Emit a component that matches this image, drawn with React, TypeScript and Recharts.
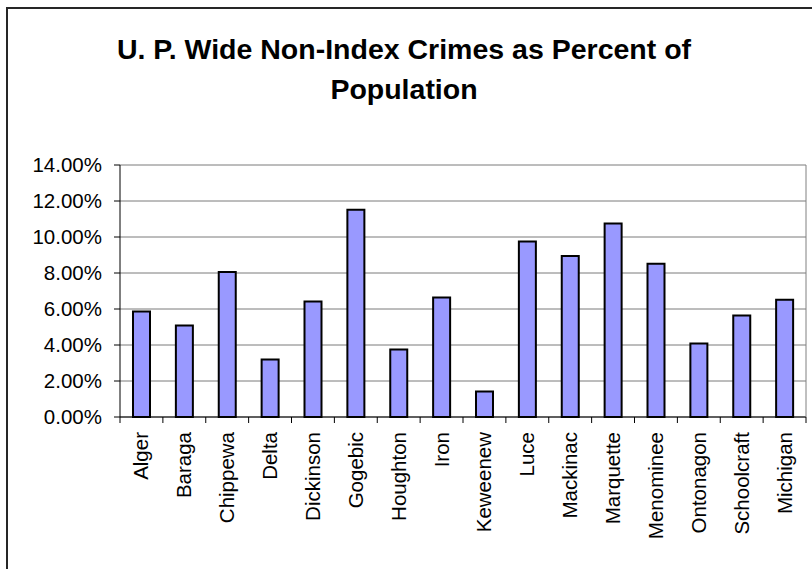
import React from 'react';
import { BarChart, Bar, XAxis, YAxis, CartesianGrid } from 'recharts';

const counties = [
  'Alger', 'Baraga', 'Chippewa', 'Delta', 'Dickinson', 'Gogebic', 'Houghton', 'Iron',
  'Keweenew', 'Luce', 'Mackinac', 'Marquette', 'Menominee', 'Ontonagon', 'Schoolcraft', 'Michigan',
];
const rates = [5.86, 5.09, 8.06, 3.2, 6.42, 11.52, 3.75, 6.64, 1.42, 9.75, 8.95, 10.75, 8.51, 4.09, 5.64, 6.51];
const yTicks = [0, 2, 4, 6, 8, 10, 12, 14];

const data = counties.map((name, i) => ({ name, rate: rates[i] }));

const W = 812;
const H = 569;
const LEFT = 120;
const RIGHT_W = 6;
const BAND = (W - LEFT - RIGHT_W) / counties.length;
const FONT = '"Liberation Sans", Arial, sans-serif';

// category ticks sit on the boundaries between bars, labels run upwards
const CatTick = (props: any) => {
  const { x, y, payload, index } = props;
  return (
    <g>
      <line x1={x - BAND / 2} x2={x - BAND / 2} y1={y} y2={y + 6} stroke="#000" />
      {index === counties.length - 1 && (
        <line x1={x + BAND / 2} x2={x + BAND / 2} y1={y} y2={y + 6} stroke="#000" />
      )}
      <text
        transform={`translate(${x + 7},${y + 15}) rotate(-90)`}
        textAnchor="end"
        fontSize={20.5}
        fontFamily={FONT}
        fill="#000"
      >
        {payload.value}
      </text>
    </g>
  );
};

const App: React.FC = () => {
  return (
    <div style={{ position: 'fixed', left: 0, top: 0, width: W, height: H, overflow: 'hidden', background: '#fff' }}>
      <div style={{ position: 'absolute', left: 6, top: 7, width: 900, height: 700, border: '2px solid #262626' }} />
      <div
        style={{
          position: 'absolute', left: 0, top: 29, width: W - 4, textAlign: 'center',
          fontFamily: FONT, fontWeight: 'bold', fontSize: 28.5, lineHeight: '40px', color: '#000',
        }}
      >
        U. P. Wide Non-Index Crimes as Percent of
        <br />
        Population
      </div>
      <div style={{ position: 'absolute', left: 0, top: 0 }}>
        <BarChart width={W} height={H} data={data} margin={{ top: 165, right: 0, left: 0, bottom: 0 }}>
          <CartesianGrid yAxisId="left" vertical={false} stroke="#7a7a7a" />
          <XAxis
            dataKey="name"
            interval={0}
            height={H - 417}
            tickLine={false}
            tickSize={0}
            tickMargin={0}
            axisLine={{ stroke: '#000' }}
            tick={<CatTick />}
          />
          <YAxis
            yAxisId="left"
            width={LEFT}
            domain={[0, 14]}
            ticks={yTicks}
            tickFormatter={(v: number) => v.toFixed(2) + '%'}
            axisLine={{ stroke: '#000' }}
            tickLine={{ stroke: '#000' }}
            tickSize={6}
            tickMargin={12}
            tick={{ fill: '#000', fontSize: 20.5, fontFamily: FONT }}
          />
          <YAxis
            yAxisId="right"
            orientation="right"
            width={RIGHT_W}
            domain={[0, 14]}
            tick={false}
            tickLine={false}
            axisLine={{ stroke: '#808080' }}
          />
          <Bar
            yAxisId="left"
            dataKey="rate"
            fill="#9999FF"
            stroke="#000"
            strokeWidth={2}
            barSize={17}
            isAnimationActive={false}
          />
        </BarChart>
      </div>
    </div>
  );
};

export default App;
